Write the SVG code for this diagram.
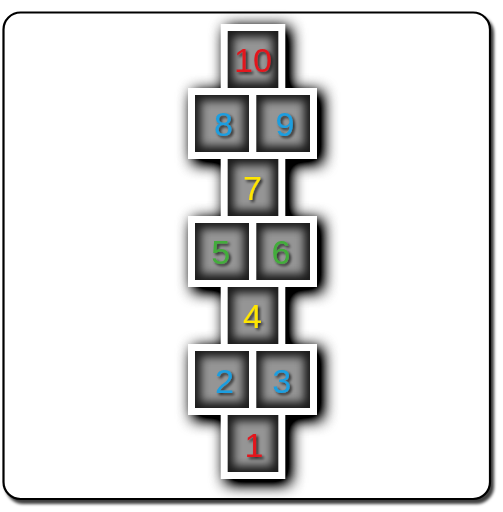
<svg xmlns="http://www.w3.org/2000/svg" width="503" height="512" viewBox="0 0 503 512">
  <defs>
    <filter id="frameShadow" x="-10%" y="-10%" width="120%" height="120%">
      <feDropShadow dx="3" dy="4" stdDeviation="1.8" flood-color="#000" flood-opacity="0.75"/>
    </filter>
    <filter id="outerShadow" x="-50%" y="-20%" width="200%" height="140%">
      <feGaussianBlur stdDeviation="8"/>
      <feComponentTransfer>
        <feFuncA type="linear" slope="1.8"/>
      </feComponentTransfer>
    </filter>
    <filter id="glow" x="-50%" y="-50%" width="200%" height="200%">
      <feGaussianBlur stdDeviation="4.5"/>
    </filter>
    <filter id="txtShadow" x="-50%" y="-50%" width="200%" height="200%">
      <feDropShadow dx="2" dy="2" stdDeviation="1.5" flood-color="#000" flood-opacity="0.75"/>
    </filter>
  </defs>
  <style>
    .frame { fill: #ffffff; stroke: #000000; stroke-width: 2.2; }
    .shadow { fill: #000000; }
    .cell { fill: #1b1b1b; }
    .glowr { fill: #959595; }
    .border { fill: none; stroke: #ffffff; stroke-width: 7; }
    .num { font-family: "Liberation Sans", Arial, sans-serif; font-size: 34px; text-anchor: middle; filter: url(#txtShadow); }
    .red { fill: #e3161e; }
    .blue { fill: #1a9ee0; }
    .yellow { fill: #ffe600; }
    .green { fill: #42ad3a; }
  </style>

  <rect id="frame" class="frame" x="3.5" y="12.5" width="486.5" height="486.5" rx="17" ry="17" filter="url(#frameShadow)"/>

  <g id="shadow" filter="url(#outerShadow)" transform="translate(5,4)">
    <rect class="shadow" x="221" y="24" width="63.5" height="71"/>
    <rect class="shadow" x="188.3" y="88" width="128.4" height="71"/>
    <rect class="shadow" x="221" y="152" width="63.5" height="71"/>
    <rect class="shadow" x="188.3" y="216" width="128.4" height="71"/>
    <rect class="shadow" x="221" y="280" width="63.5" height="71"/>
    <rect class="shadow" x="188.3" y="344" width="128.4" height="71"/>
    <rect class="shadow" x="221" y="408" width="63.5" height="71"/>
  </g>

  <g id="cells">
    <rect class="cell" x="227.7" y="31" width="50.6" height="57"/>
    <rect class="cell" x="195" y="95" width="54.3" height="57"/>
    <rect class="cell" x="256" y="95" width="54" height="57"/>
    <rect class="cell" x="227.7" y="159" width="50.6" height="57"/>
    <rect class="cell" x="195" y="223" width="54.3" height="57"/>
    <rect class="cell" x="256" y="223" width="54" height="57"/>
    <rect class="cell" x="227.7" y="287" width="50.6" height="57"/>
    <rect class="cell" x="195" y="351" width="54.3" height="57"/>
    <rect class="cell" x="256" y="351" width="54" height="57"/>
    <rect class="cell" x="227.7" y="415" width="50.6" height="57"/>
  </g>

  <g id="glows" filter="url(#glow)">
    <rect class="glowr" x="233.7" y="37" width="38.6" height="45"/>
    <rect class="glowr" x="201" y="101" width="42.3" height="45"/>
    <rect class="glowr" x="262" y="101" width="42" height="45"/>
    <rect class="glowr" x="233.7" y="165" width="38.6" height="45"/>
    <rect class="glowr" x="201" y="229" width="42.3" height="45"/>
    <rect class="glowr" x="262" y="229" width="42" height="45"/>
    <rect class="glowr" x="233.7" y="293" width="38.6" height="45"/>
    <rect class="glowr" x="201" y="357" width="42.3" height="45"/>
    <rect class="glowr" x="262" y="357" width="42" height="45"/>
    <rect class="glowr" x="233.7" y="421" width="38.6" height="45"/>
  </g>

  <g id="borders">
    <rect class="border" x="224.2" y="27.5" width="57.6" height="64"/>
    <rect class="border" x="191.5" y="91.5" width="61.3" height="64"/>
    <rect class="border" x="252.5" y="91.5" width="61" height="64"/>
    <rect class="border" x="224.2" y="155.5" width="57.6" height="64"/>
    <rect class="border" x="191.5" y="219.5" width="61.3" height="64"/>
    <rect class="border" x="252.5" y="219.5" width="61" height="64"/>
    <rect class="border" x="224.2" y="283.5" width="57.6" height="64"/>
    <rect class="border" x="191.5" y="347.5" width="61.3" height="64"/>
    <rect class="border" x="252.5" y="347.5" width="61" height="64"/>
    <rect class="border" x="224.2" y="411.5" width="57.6" height="64"/>
  </g>

  <g id="numbers">
    <text id="n10" class="num red" x="253" y="72">10</text>
    <text id="n8" class="num blue" x="223.5" y="136">8</text>
    <text id="n9" class="num blue" x="285" y="136">9</text>
    <text id="n7" class="num yellow" x="252.5" y="200">7</text>
    <text id="n5" class="num green" x="220.7" y="263.5">5</text>
    <text id="n6" class="num green" x="281" y="263.5">6</text>
    <text id="n4" class="num yellow" x="252.5" y="328">4</text>
    <text id="n2" class="num blue" x="224.5" y="393">2</text>
    <text id="n3" class="num blue" x="281.7" y="393">3</text>
    <text id="n1" class="num red" x="254" y="457">1</text>
  </g>
</svg>
